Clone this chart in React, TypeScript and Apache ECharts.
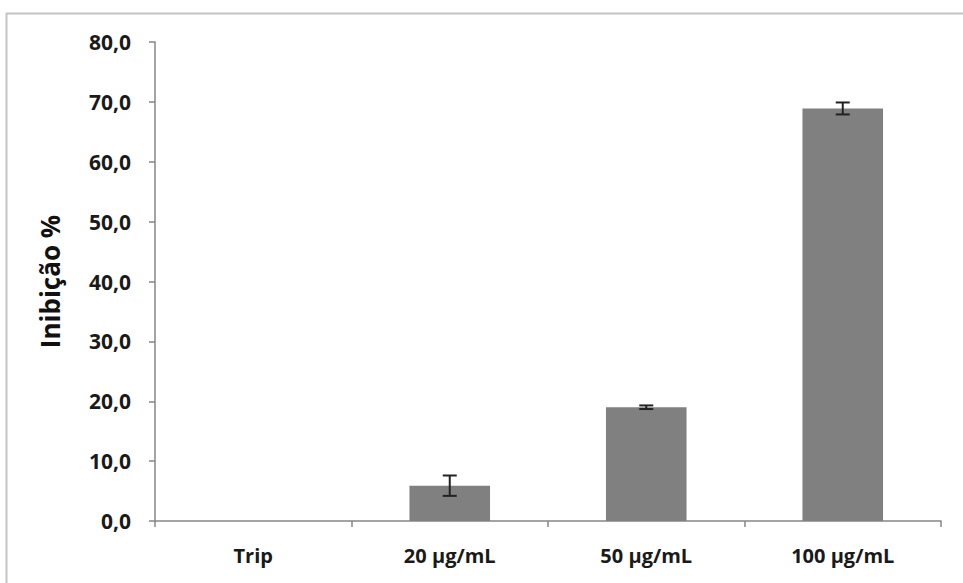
import React, { useEffect, useRef } from "react";
import * as echarts from "echarts";

const categories = ["Trip", "20 µg/mL", "50 µg/mL", "100 µg/mL"];
const inhibition = [0, 5.9, 19.0, 68.9];
const errors = [0, 1.7, 0.3, 1.0];
const yTicks = { min: 0, max: 80, interval: 10 };

export default function App() {
  const ref = useRef<HTMLDivElement>(null);
  useEffect(() => {
    if (!ref.current) return;
    const chart = echarts.init(ref.current, null, { renderer: "svg" });
    const errData = categories
      .map((_, i) => [i, inhibition[i] - errors[i], inhibition[i] + errors[i]])
      .filter((d, i) => errors[i] > 0);
    const font = "'Open Sans', 'DejaVu Sans', sans-serif";
    chart.setOption({
      animation: false,
      backgroundColor: "#ffffff",
      graphic: [
        { type: "line", shape: { x1: 6, y1: 13.5, x2: 963, y2: 13.5 }, style: { stroke: "#c4c4c4", lineWidth: 2 } },
        { type: "line", shape: { x1: 6.5, y1: 13, x2: 6.5, y2: 583 }, style: { stroke: "#c4c4c4", lineWidth: 2 } },
      ],
      grid: { left: 155, right: 22, top: 42, bottom: 62 },
      xAxis: {
        type: "category",
        data: categories,
        axisLine: { lineStyle: { color: "#868686", width: 1.5 } },
        axisTick: { show: true, length: 6, lineStyle: { color: "#868686", width: 1.5 } },
        axisLabel: { color: "#1a1a1a", fontSize: 20, fontWeight: "bold", fontFamily: font, margin: 24 },
      },
      yAxis: {
        type: "value",
        min: yTicks.min,
        max: yTicks.max,
        interval: yTicks.interval,
        name: "Inibição %",
        nameLocation: "middle",
        nameGap: 92,
        nameTextStyle: { color: "#111", fontSize: 26, fontWeight: "bold", fontFamily: font },
        axisLine: { show: true, lineStyle: { color: "#868686", width: 1.5 } },
        axisTick: { show: true, length: 6, lineStyle: { color: "#868686", width: 1.5 } },
        splitLine: { show: false },
        axisLabel: {
          color: "#1a1a1a",
          fontSize: 21,
          fontWeight: "bold",
          fontFamily: font,
          margin: 24,
          formatter: (v: number) => v.toFixed(1).replace(".", ","),
        },
      },
      series: [
        {
          type: "bar",
          data: inhibition,
          barWidth: "41%",
          itemStyle: { color: "#808080" },
        },
        {
          type: "custom",
          data: errData,
          z: 10,
          renderItem: (params: any, api: any) => {
            const x = api.value(0);
            const lo = api.coord([x, api.value(1)]);
            const hi = api.coord([x, api.value(2)]);
            const hw = 7;
            const style = { stroke: "#222222", lineWidth: 2 };
            return {
              type: "group",
              children: [
                { type: "line", shape: { x1: lo[0], y1: lo[1], x2: hi[0], y2: hi[1] }, style },
                { type: "line", shape: { x1: hi[0] - hw, y1: hi[1], x2: hi[0] + hw, y2: hi[1] }, style },
                { type: "line", shape: { x1: lo[0] - hw, y1: lo[1], x2: lo[0] + hw, y2: lo[1] }, style },
              ],
            };
          },
        },
      ],
    });
    return () => chart.dispose();
  }, []);
  return <div ref={ref} style={{ width: 963, height: 583, position: "absolute", left: 0, top: 0 }} />;
}
